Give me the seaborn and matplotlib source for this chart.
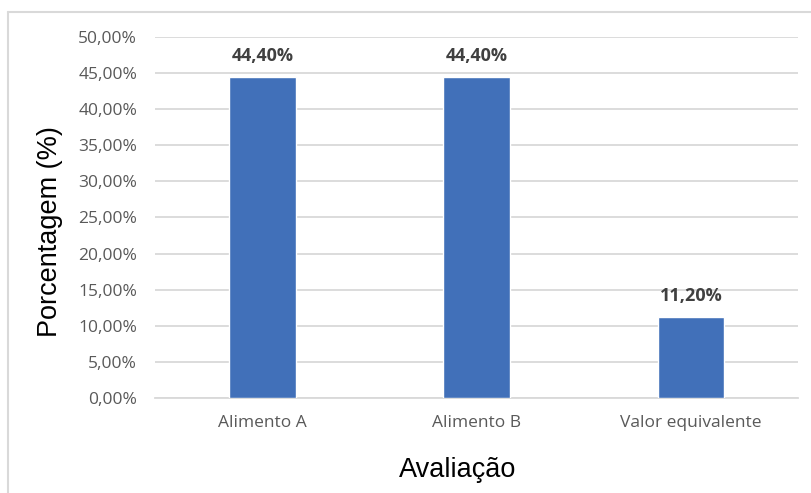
import matplotlib
matplotlib.use("Agg")
import matplotlib.pyplot as plt
from matplotlib.lines import Line2D
from matplotlib.ticker import FuncFormatter
import seaborn as sns
import pandas as pd

categorias = ["Alimento A", "Alimento B", "Valor equivalente"]
valores = [44.40, 44.40, 11.20]
yticks = [0, 5, 10, 15, 20, 25, 30, 35, 40, 45, 50]

df = pd.DataFrame({"Avaliação": categorias, "Porcentagem": valores})

sns.set_theme(style="white")
plt.rcParams["font.family"] = ["Open Sans", "DejaVu Sans"]

fig = plt.figure(figsize=(8.12, 4.93), dpi=100)
ax = fig.add_axes([0.191, 0.193, 0.792, 0.732])

sns.barplot(data=df, x="Avaliação", y="Porcentagem", color="#4170B9",
            width=0.31, saturation=1, ax=ax, zorder=3)

ax.set_ylim(0, 50)
ax.set_yticks(yticks)
ax.yaxis.set_major_formatter(FuncFormatter(lambda v, p: f"{v:.2f}%".replace(".", ",")))
ax.grid(axis="y", color="#D9D9D9", linewidth=1.3, zorder=0)
ax.set_axisbelow(True)
for s in ["top", "right", "left"]:
    ax.spines[s].set_visible(False)
ax.spines["bottom"].set_color("#D9D9D9")
ax.spines["bottom"].set_linewidth(1.3)
ax.tick_params(axis="both", length=0, labelsize=12.5, labelcolor="#595959")
ax.tick_params(axis="y", pad=13)
ax.tick_params(axis="x", pad=12)

for cont in ax.containers:
    ax.bar_label(cont, labels=[f"{v:.2f}%".replace(".", ",") for v in valores],
                 padding=9, fontsize=13, fontweight="bold", color="#404040")

ax.set_xlabel("Avaliação", fontsize=19.5, family="Liberation Sans", color="black", labelpad=19)
ax.set_ylabel("Porcentagem (%)", fontsize=19.5, family="Liberation Sans", color="black", labelpad=11)
ax.xaxis.label.set_x(0.471)
ax.yaxis.label.set_y(0.461)

# borda do gráfico (apenas topo e esquerda visíveis)
fig.add_artist(Line2D([8 / 812, 1.0], [1 - 12 / 493, 1 - 12 / 493], color="#D9D9D9", lw=1.5))
fig.add_artist(Line2D([8 / 812, 8 / 812], [0.0, 1 - 12 / 493], color="#D9D9D9", lw=1.5))

fig.savefig("out.png", dpi=100)
